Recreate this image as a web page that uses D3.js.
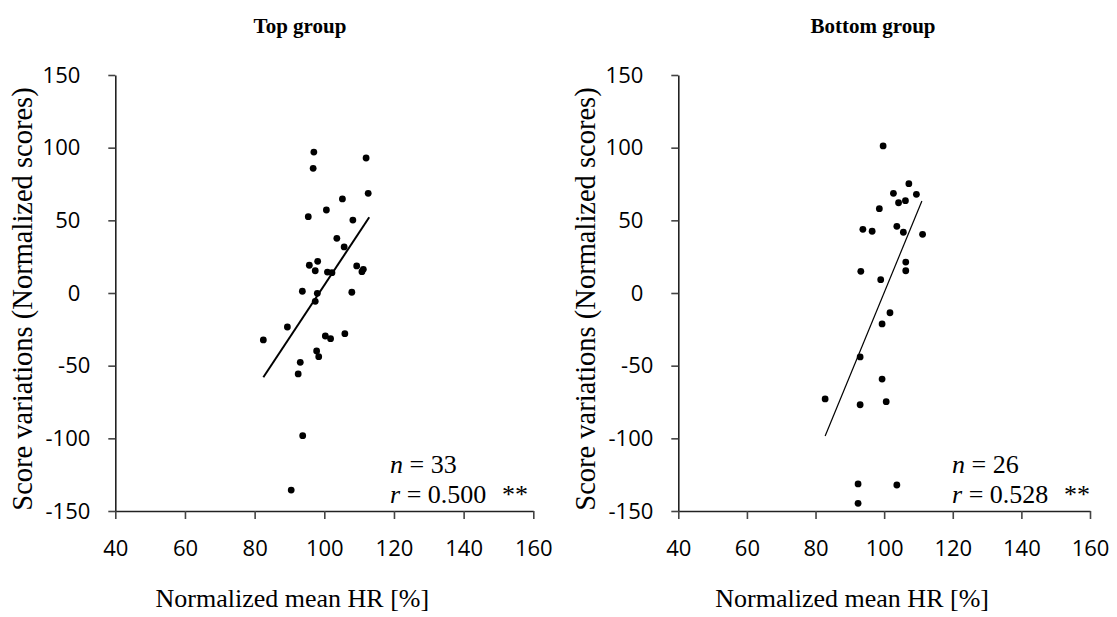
<!DOCTYPE html>
<html>
<head>
<meta charset="utf-8">
<script src="https://cdn.jsdelivr.net/npm/d3@7"></script>
<style>
  html, body { margin: 0; padding: 0; background: #fff; }
  svg { display: block; }
</style>
</head>
<body>
<svg id="chart" width="1117" height="617"></svg>
<script>
// ---- data ----
const xTicks = [40, 60, 80, 100, 120, 140, 160];
const yTicks = [-150, -100, -50, 0, 50, 100, 150];

const topHR = [97.0, 96.8, 112.0, 112.6, 105.2, 100.6, 95.4, 108.2, 103.6, 105.7,
  95.7, 98.1, 97.4, 100.9, 102.2, 109.3, 111.2, 110.8, 93.7, 98.0, 97.4, 107.9,
  89.4, 82.5, 100.3, 101.8, 105.9, 97.8, 98.4, 93.1, 92.5, 93.8, 90.5];
const topScore = [97.0, 85.8, 92.9, 68.6, 64.7, 57.1, 52.5, 50.2, 37.6, 31.7,
  19.1, 21.8, 15.3, 14.4, 14.0, 18.6, 16.3, 14.7, 1.2, -0.2, -5.7, 0.5,
  -23.4, -32.3, -29.6, -31.4, -28.0, -39.9, -43.8, -47.7, -55.7, -98.2, -135.6];
const topTrendHR = [82.5, 112.9];
const topTrendScore = [-58.0, 52.1];

const bottomHR = [99.7, 107.2, 102.7, 109.4, 104.2, 106.2, 98.6, 93.8, 96.5, 103.7,
  105.6, 111.2, 106.3, 106.3, 93.2, 99.0, 101.7, 99.4, 93.0, 99.4, 82.8, 93.0,
  100.6, 92.4, 103.7, 92.4];
const bottomScore = [101.2, 75.2, 68.6, 67.9, 62.1, 63.5, 58.0, 43.8, 42.5, 45.9,
  41.8, 40.4, 21.3, 15.3, 14.9, 9.2, -13.6, -21.3, -44.0, -59.2, -72.9, -76.9,
  -74.8, -131.4, -132.1, -144.7];
const bottomTrendHR = [82.8, 111.0];
const bottomTrendScore = [-98.4, 63.3];

const panelTitles = ["Top group", "Bottom group"];
const nLabels = ["33", "26"];
const rLabels = ["0.500", "0.528"];
const sigLabel = "**";
const xTitle = "Normalized mean HR [%]";
const yTitle = "Score variations (Normalized scores)";

// ---- drawing ----
const svg = d3.select("#chart");
const serif = "'Liberation Serif', 'Times New Roman', serif";
const sans = "'Open Sans', 'Liberation Sans', sans-serif";

const panels = [
  { hr: topHR, sc: topScore, tHR: topTrendHR, tSc: topTrendScore,
    x0: 115.3, x1: 533.3, titleX: 300, annX: 390, yTitleX: 32, lw: 2 },
  { hr: bottomHR, sc: bottomScore, tHR: bottomTrendHR, tSc: bottomTrendScore,
    x0: 678.3, x1: 1090, titleX: 873, annX: 952, yTitleX: 595, lw: 1.2 }
];

panels.forEach((p, i) => {
  const x = d3.scaleLinear().domain([40, 160]).range([p.x0, p.x1]);
  const y = d3.scaleLinear().domain([-150, 150]).range([511, 75]);
  const g = svg.append("g");

  // y axis
  const yAx = g.append("g").attr("transform", `translate(${p.x0},0)`)
    .call(d3.axisLeft(y).tickValues(yTicks).tickFormat(d => String(d))
      .tickSizeInner(7).tickSizeOuter(0).tickPadding(0));
  yAx.select(".domain").attr("stroke", "#222").attr("stroke-width", 1.6);
  yAx.selectAll(".tick line").attr("stroke", "#444").attr("stroke-width", 1.6);
  yAx.selectAll(".tick text")
    .attr("x", d => d < 0 ? -25 : -35)
    .attr("font-family", sans).attr("font-size", 22).attr("fill", "#000");

  // x axis
  const xAx = g.append("g").attr("transform", `translate(0,511)`)
    .call(d3.axisBottom(x).tickValues(xTicks).tickFormat(d => String(d))
      .tickSizeInner(8).tickSizeOuter(0).tickPadding(0));
  xAx.select(".domain").attr("stroke", "#222").attr("stroke-width", 1.6);
  xAx.selectAll(".tick line").attr("stroke", "#444").attr("stroke-width", 1.6);
  xAx.selectAll(".tick text")
    .attr("y", 0).attr("dy", 0)
    .attr("transform", "translate(0,45)")
    .attr("font-family", sans).attr("font-size", 22).attr("fill", "#000");

  // trend line
  g.append("line")
    .attr("x1", x(p.tHR[0])).attr("y1", y(p.tSc[0]))
    .attr("x2", x(p.tHR[1])).attr("y2", y(p.tSc[1]))
    .attr("stroke", "#000").attr("stroke-width", p.lw);

  // points
  g.selectAll("circle.pt").data(p.hr.map((h, k) => [h, p.sc[k]]))
    .join("circle").attr("class", "pt")
    .attr("cx", d => x(d[0])).attr("cy", d => y(d[1]))
    .attr("r", 3.4).attr("fill", "#000");

  // titles
  g.append("text").attr("x", p.titleX).attr("y", 33)
    .attr("text-anchor", "middle").attr("font-family", serif)
    .attr("font-weight", "bold").attr("font-size", 21).text(panelTitles[i]);

  g.append("text").attr("x", (p.x0 + p.x1) / 2 - 32).attr("y", 607)
    .attr("text-anchor", "middle").attr("font-family", serif)
    .attr("font-size", 26).text(xTitle);

  g.append("text")
    .attr("transform", `translate(${p.yTitleX},${299}) rotate(-90)`)
    .attr("text-anchor", "middle").attr("font-family", serif)
    .attr("font-size", 28.5).text(yTitle);

  // annotations
  const a1 = g.append("text").attr("x", p.annX).attr("y", 473)
    .attr("font-family", serif).attr("font-size", 26);
  a1.append("tspan").attr("font-style", "italic").text("n");
  a1.append("tspan").text(" = " + nLabels[i]);
  const a2 = g.append("text").attr("x", p.annX).attr("y", 503)
    .attr("font-family", serif).attr("font-size", 26);
  a2.append("tspan").attr("font-style", "italic").text("r");
  a2.append("tspan").text(" = " + rLabels[i]);
  a2.append("tspan").attr("x", p.annX + 112).text(sigLabel);
});
</script>
</body>
</html>
